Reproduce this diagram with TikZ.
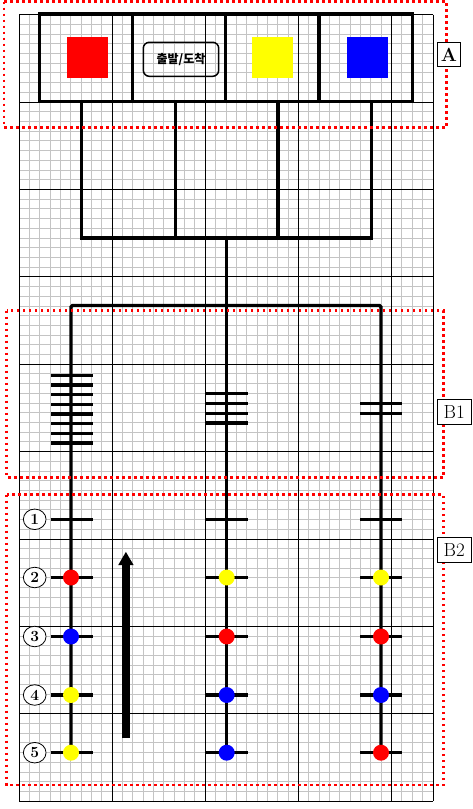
\documentclass[tikz,border=0pt]{standalone}
\usepackage{fontspec}
\newfontfamily\kr{Noto Sans CJK KR}
\usetikzlibrary{shapes.geometric,arrows.meta}
\definecolor{gridgray}{HTML}{C4C4C4}
\definecolor{pred}{HTML}{FF0000}
\definecolor{pyel}{HTML}{FFFF00}
\definecolor{pblu}{HTML}{0000FF}
\tikzset{
  minorline/.style={draw=gridgray,line width=1pt},
  majorline/.style={draw=black,line width=0.9pt},
  heavy/.style={draw=black,line width=3.3pt},
  tickline/.style={draw=black,line width=3.4pt},
  zone/.style={draw=pred,line width=2.6pt,dash pattern=on 2.6pt off 3.4pt},
  zonelabel/.style={draw=black,fill=white,line width=0.8pt,inner sep=0pt,font=\fontsize{19}{19}\selectfont},
  colsq/.style={minimum width=41pt,minimum height=41pt,inner sep=0pt},
  dot/.style={circle,minimum size=16pt,inner sep=0pt},
  numcirc/.style={ellipse,draw=black,fill=white,line width=0.8pt,minimum width=22.7pt,minimum height=20.5pt,inner sep=0pt,font=\fontsize{15.5}{15.5}\selectfont\bfseries},
}
\begin{document}
\begin{tikzpicture}[x=1pt,y=-1pt]
\useasboundingbox (0,0) rectangle (472,809);
% minor grid
\foreach \i in {0,...,40} {\draw[minorline] ({19+10.35*\i},14.7) -- ({19+10.35*\i},801.3);}
\foreach \j in {0,...,81} {\draw[minorline] (19,{14.7+9.71*\j}) -- (433,{14.7+9.71*\j});}
% major grid
\foreach \i in {0,9,18,27,36,40} {\draw[majorline] ({19+10.35*\i},14.7) -- ({19+10.35*\i},801.3);}
\foreach \j in {0,9,...,81} {\draw[majorline] (19,{14.7+9.71*\j}) -- (433,{14.7+9.71*\j});}

% top panel
\draw[heavy] (39.7,14) rectangle (412.3,101.7);
\draw[heavy] (132.3,14) -- (132.3,101.7);
\draw[heavy] (225.8,14) -- (225.8,101.7);
\draw[heavy] (319,14) -- (319,101.7);
\node[colsq,fill=pred] (sqr) at (87.2,57.8) {};
\node[draw=black,line width=1.5pt,rounded corners=6pt,minimum width=75.4pt,minimum height=34pt,inner sep=0pt,font=\kr\bfseries\fontsize{12}{12}\selectfont] (start) at (181,59.3) {출발/도착};
\node[colsq,fill=pyel] (sqy) at (272.5,57.8) {};
\node[colsq,fill=pblu] (sqb) at (367.2,57.8) {};

% tree connectors
\coordinate (t1) at (81.5,101.7);
\coordinate (t2) at (175.7,101.7);
\coordinate (t3) at (278,101.7);
\coordinate (t4) at (371.7,101.7);
\coordinate (m1) at (81.5,238);
\coordinate (m2) at (175.7,238);
\coordinate (m3) at (278,238);
\coordinate (m4) at (371.7,238);
\coordinate (mc) at (226.7,238);
\draw[heavy] (t1) -- (m1);
\draw[heavy] (t2) -- (m2);
\draw[heavy] (t3) -- (m3);
\draw[heavy] (t4) -- (m4);
\draw[heavy,line cap=rect] (m1) -- (m4);

\coordinate (hl) at (71,305.5);
\coordinate (hr) at (381,305.5);
\coordinate (bl) at (71,752.7);
\coordinate (bc) at (226.7,752.7);
\coordinate (br) at (381,752.7);
\draw[heavy] (mc) -- (bc);
\draw[heavy,rounded corners=1.5pt] (bl) -- (hl) -- (hr) -- (br);

% B1 ticks
\foreach \k in {0,...,7} {\draw[tickline] (50.5,{375.3+9.67*\k}) -- (92.5,{375.3+9.67*\k});}
\foreach \k in {0,...,3} {\draw[tickline] (205.5,{393.5+9.85*\k}) -- (247.5,{393.5+9.85*\k});}
\foreach \k in {0,1} {\draw[tickline] (360,{403.4+10.2*\k}) -- (402,{403.4+10.2*\k});}

% B2 rows
\foreach \y/\n in {519.3/1,577.5/2,636.5/3,695/4,752.7/5} {
  \draw[tickline] (50.5,\y) -- (92.5,\y);
  \draw[tickline] (205.5,\y) -- (247.5,\y);
  \draw[tickline] (360,\y) -- (402,\y);
  \node[numcirc] (n\n) at (34.7,\y) {\n};
}
% dots
\node[dot,fill=pred] (d2a) at (71,577.5) {};
\node[dot,fill=pyel] (d2b) at (226.7,577.5) {};
\node[dot,fill=pyel] (d2c) at (381,577.5) {};
\node[dot,fill=pblu] (d3a) at (71,636.5) {};
\node[dot,fill=pred] (d3b) at (226.7,636.5) {};
\node[dot,fill=pred] (d3c) at (381,636.5) {};
\node[dot,fill=pyel] (d4a) at (71,695) {};
\node[dot,fill=pblu] (d4b) at (226.7,695) {};
\node[dot,fill=pblu] (d4c) at (381,695) {};
\node[dot,fill=pyel] (d5a) at (71,752.7) {};
\node[dot,fill=pblu] (d5b) at (226.7,752.7) {};
\node[dot,fill=pred] (d5c) at (381,752.7) {};

% big arrow
\coordinate (arrS) at (125.9,738.3);
\coordinate (arrE) at (125.9,551.7);
\draw[line width=7.3pt,-{Triangle[length=13.5pt,width=14.5pt]}] (arrS) -- (arrE);

% zones
\draw[zone] (4,1.7) rectangle (446.7,127.3);
\draw[zone] (6.7,310.7) rectangle (443.3,477.3);
\draw[zone] (6.5,494.7) rectangle (443.3,785);
\node[zonelabel,minimum width=23.4pt,minimum height=24pt,font=\fontsize{19}{19}\selectfont\bfseries] (la) at (449,54.7) {A};
\node[zonelabel,minimum width=34pt,minimum height=25pt] (lb1) at (454.3,411.8) {B1};
\node[zonelabel,minimum width=34pt,minimum height=25pt] (lb2) at (454.3,550) {B2};
\end{tikzpicture}
\end{document}
